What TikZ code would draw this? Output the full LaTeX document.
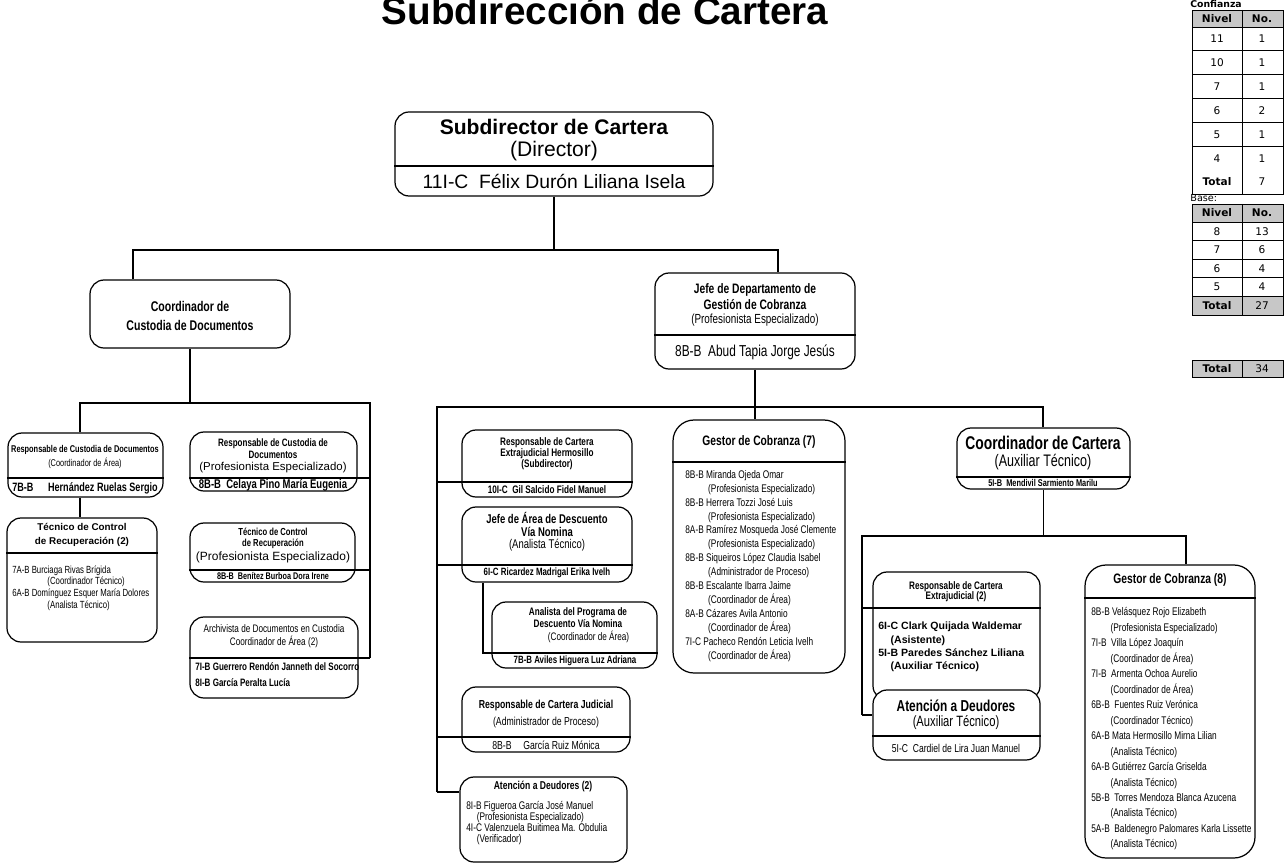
\documentclass[tikz,border=0pt]{standalone}
\usepackage{fontspec}
\setmainfont{Liberation Sans}
\newfontfamily\nar[FakeStretch=0.75]{Liberation Sans}
\newfontfamily\tbf{DejaVu Sans}
\usetikzlibrary{fit}
\newcommand{\fz}[2]{\fontsize{#1}{#2}\selectfont}
\newcommand{\ind}[1][13pt]{\hspace*{#1}}

\tikzset{
  obox/.style={draw, line width=0.7pt, rounded corners=8pt, inner sep=0pt, fill=white},
  gbox/.style={obox, rounded corners=12pt},
  wire/.style={line width=0.7pt},
  grid/.style={line width=0.5pt},
  lbl/.style={inner sep=0pt, align=center},
  lst/.style={inner sep=0pt, align=left, anchor=west},
  cell/.style={inner sep=0pt, font=\tbf\fz{6}{7}},
  hcell/.style={cell, font=\tbf\bfseries\fz{6}{7}},
  shade/.style={fill=black!22}
}

\begin{document}
\begin{tikzpicture}[x=0.02cm, y=-0.02cm]
\useasboundingbox (0,0) rectangle (1287,868);

\node[lbl, anchor=base, font=\bfseries\fz{22}{26}] (title) at (605,25) {Subdirección de Cartera};

\node[obox, fit={(395,112) (713,196)}] (dir) {};
\node[obox, fit={(90,280) (290,348)}] (cust) {};
\node[obox, fit={(655,273) (855,369)}] (jefe) {};

\node[obox, fit={(8,433) (163,497)}] (rcdA) {};
\node[obox, fit={(7,518) (157,642)}] (tcrA) {};
\node[obox, fit={(190,432) (357,491)}] (rcdB) {};
\node[obox, fit={(190,523) (355,582)}] (tcrB) {};
\node[obox, fit={(190,617) (358,698)}] (arch) {};

\node[obox, fit={(462,430) (632,497)}] (herm) {};
\node[obox, fit={(462,507) (632,582)}] (jarea) {};
\node[obox, fit={(492,602) (657,668)}] (anal) {};
\node[obox, fit={(462,687) (630,752)}] (jud) {};
\node[obox, fit={(460,777) (627,862)}] (atenA) {};
\node[gbox, fit={(673,420) (845,673)}] (gesA) {};

\node[obox, fit={(957,428) (1130,489)}] (ccar) {};
\node[obox, fit={(873,572) (1040,700)}] (rext) {};
\node[obox, fit={(873,690) (1040,760)}] (atenB) {};
\node[gbox, fit={(1085,565) (1255,858)}] (gesB) {};

\coordinate (b1l) at (133,250);
\coordinate (b1r) at (778,250);
\draw[wire] (dir.south) -- (dir.south |- b1l);
\draw[wire] (cust.north -| b1l) -- (b1l) -- (b1r) -- (jefe.north -| b1r);
\draw[wire] (dir.west |- 0,166) -- (dir.east |- 0,166);
\draw[wire] (jefe.west |- 0,335) -- (jefe.east |- 0,335);

\coordinate (b2l) at (80,403);
\coordinate (b2r) at (370,403);
\draw[wire] (cust.south) -- (cust.south |- b2l);
\draw[wire] (rcdA.north -| b2l) -- (b2l) -- (b2r) -- (b2r |- 0,658);
\draw[wire] (rcdA.south -| b2l) -- (tcrA.north -| b2l);
\draw[wire] (rcdA.west |- 0,478) -- (rcdA.east |- 0,478);
\draw[wire] (tcrA.west |- 0,553) -- (tcrA.east |- 0,553);
\draw[wire] (rcdB.west |- 0,478) -- (b2r |- 0,478);
\draw[wire] (tcrB.west |- 0,570) -- (b2r |- 0,570);
\draw[wire] (arch.west |- 0,658) -- (b2r |- 0,658);

\coordinate (b3l) at (437,407);
\coordinate (b3r) at (1043,407);
\draw[wire] (jefe.south) -- (gesA.north -| jefe.south);
\draw[wire] (b3l |- 0,792) -- (b3l) -- (b3r) -- (ccar.north -| b3r);
\draw[wire] (b3l |- 0,482) -- (herm.east |- 0,482);
\draw[wire] (b3l |- 0,565) -- (jarea.east |- 0,565);
\draw[wire] (jarea.south -| 483,0) -- (483,653) -- (anal.east |- 0,653);
\draw[wire] (b3l |- 0,737) -- (jud.east |- 0,737);
\draw[wire] (b3l |- 0,792) -- (atenA.west |- 0,792);
\draw[wire] (gesA.west |- 0,462) -- (gesA.east |- 0,462);

\coordinate (b4l) at (862,536);
\coordinate (b4r) at (1186,536);
\draw[wire] (ccar.south) -- (ccar.south |- b4l);
\draw[wire] (b4l |- 0,715) -- (b4l) -- (b4r) -- (gesB.north -| b4r);
\draw[wire] (b4l |- 0,608) -- (rext.east |- 0,608);
\draw[wire] (b4l |- 0,715) -- (atenB.west |- 0,715);
\draw[wire] (ccar.west |- 0,477) -- (ccar.east |- 0,477);
\draw[wire] (atenB.west |- 0,736) -- (atenB.east |- 0,736);
\draw[wire] (gesB.west |- 0,598) -- (gesB.east |- 0,598);

\node[lbl, font=\bfseries\fz{12}{14}] (dirT) at (554,127) {Subdirector de Cartera};
\node[lbl, font=\fz{12}{14}] (dirS) at (554,151) {(Director)};
\node[lbl, font=\fz{11}{13}] (dirN) at (554,181) {11I-C\ \ Félix Durón Liliana Isela};

\node[lbl, font=\nar\bfseries\fz{8}{10.5}] (custT) at (190,316) {Coordinador de\\Custodia de Documentos};

\node[lbl, font=\nar\bfseries\fz{7.8}{9}] (jefeT) at (755,297) {Jefe de Departamento de\\Gestión de Cobranza};
\node[lbl, font=\nar\fz{7.5}{9}] (jefeS) at (755,320) {(Profesionista Especializado)};
\node[lbl, font=\nar\fz{9}{11}] (jefeN) at (755,352) {8B-B\ \ Abud Tapia Jorge Jesús};

\node[lbl, font=\nar\bfseries\fz{5.6}{7}] (rcdAT) at (85,450) {Responsable de Custodia de Documentos};
\node[lbl, font=\nar\fz{5.6}{7}] (rcdAS) at (85,463) {(Coordinador de Área)};
\node[lbl, font=\nar\bfseries\fz{6.9}{8}] (rcdAN) at (85,488) {7B-B\hspace{1.2em}Hernández Ruelas Sergio};

\node[lbl, font=\bfseries\fz{5.6}{8}] (tcrAT) at (82,535) {Técnico de Control\\de Recuperación (2)};
\node[lst, font=\nar\fz{5.9}{6.6}] (tcrAN) at (12,588) {7A-B Burciaga Rivas Brígida\\\ind[20pt](Coordinador Técnico)\\6A-B Domínguez Esquer María Dolores\\\ind[20pt](Analista Técnico)};

\node[lbl, font=\nar\bfseries\fz{6.1}{6.8}] (rcdBT) at (273,449) {Responsable de Custodia de\\Documentos};
\node[lbl, font=\fz{6.5}{7}] (rcdBS) at (273,468) {(Profesionista Especializado)};
\node[lbl, font=\nar\bfseries\fz{7.2}{8}] (rcdBN) at (273,485) {8B-B\ \ Celaya Pino María Eugenia};

\node[lbl, font=\nar\bfseries\fz{5.8}{6.3}] (tcrBT) at (273,538) {Técnico de Control\\de Recuperación};
\node[lbl, font=\fz{6.8}{7}] (tcrBS) at (273,557) {(Profesionista Especializado)};
\node[lbl, font=\nar\bfseries\fz{5.5}{6}] (tcrBN) at (273,576) {8B-B\ \ Benítez Burboa Dora Irene};

\node[lbl, font=\nar\fz{6.2}{7.4}] (archT) at (274,636) {Archivista de Documentos en Custodia\\Coordinador de Área (2)};
\node[lst, font=\nar\bfseries\fz{6.1}{9}] (archN) at (195,675) {7I-B Guerrero Rendón Janneth del Socorro\\8I-B García Peralta Lucía};

\node[lbl, font=\nar\bfseries\fz{6.2}{6.3}] (hermT) at (547,454) {Responsable de Cartera\\Extrajudicial Hermosillo\\(Subdirector)};
\node[lbl, font=\nar\bfseries\fz{6.2}{7}] (hermN) at (547,490) {10I-C\ \ Gil Salcido Fidel Manuel};

\node[lbl, font=\nar\bfseries\fz{7.2}{7.2}] (jareaT) at (547,532) {Jefe de Área de Descuento\\Vía Nomina\\{\mdseries(Analista Técnico)}};
\node[lbl, font=\nar\bfseries\fz{6}{7}] (jareaN) at (547,573) {6I-C Ricardez Madrigal Erika Ivelh};

\node[lbl, font=\nar\bfseries\fz{6.2}{7.3}] (analT) at (578,625) {Analista del Programa de\\Descuento Vía Nomina\\\ind[12pt]{\mdseries(Coordinador de Área)}};
\node[lbl, font=\nar\bfseries\fz{6}{7}] (analN) at (575,661) {7B-B Aviles Higuera Luz Adriana};

\node[lbl, font=\nar\bfseries\fz{6.6}{8}] (judT) at (546,705) {Responsable de Cartera Judicial};
\node[lbl, font=\nar\fz{6.6}{8}] (judS) at (546,722) {(Administrador de Proceso)};
\node[lbl, font=\nar\fz{6.6}{8}] (judN) at (546,745) {8B-B\hspace{1em}García Ruiz Mónica};

\node[lbl, font=\nar\bfseries\fz{6.5}{8}] (atenAT) at (543,786) {Atención a Deudores (2)};
\node[lst, font=\nar\fz{6.3}{6.2}] (atenAN) at (466,823) {8I-B Figueroa García José Manuel\\\ind[6pt](Profesionista Especializado)\\4I-C Valenzuela Buitimea Ma. Obdulia\\\ind[6pt](Verificador)};

\node[lbl, font=\nar\bfseries\fz{7.8}{9}] (gesAT) at (759,442) {Gestor de Cobranza (7)};
\node[lst, font=\nar\fz{6.3}{7.94}] (gesAN) at (685,566) {8B-B Miranda Ojeda Omar\\\ind(Profesionista Especializado)\\8B-B Herrera Tozzi José Luis\\\ind(Profesionista Especializado)\\8A-B Ramírez Mosqueda José Clemente\\\ind(Profesionista Especializado)\\8B-B Siqueiros López Claudia Isabel\\\ind(Administrador de Proceso)\\8B-B Escalante Ibarra Jaime\\\ind(Coordinador de Área)\\8A-B Cázares Avila Antonio\\\ind(Coordinador de Área)\\7I-C Pacheco Rendón Leticia Ivelh\\\ind(Coordinador de Área)};

\node[lbl, font=\nar\bfseries\fz{10.5}{12}] (ccarT) at (1043,443) {Coordinador de Cartera};
\node[lbl, font=\nar\fz{9.5}{12}] (ccarS) at (1043,462) {(Auxiliar Técnico)};
\node[lbl, font=\nar\bfseries\fz{5.6}{6}] (ccarN) at (1043,483) {5I-B\ \ Mendivil Sarmiento Marilu};

\node[lbl, font=\nar\bfseries\fz{6.2}{5.8}] (rextT) at (956,592) {Responsable de Cartera\\Extrajudicial (2)};
\node[lst, font=\bfseries\fz{6}{7.6}] (rextN) at (878,647) {6I-C Clark Quijada Waldemar\\\ind[7pt](Asistente)\\5I-B Paredes Sánchez Liliana\\\ind[7pt](Auxiliar Técnico)};

\node[lbl, font=\nar\bfseries\fz{9}{10}] (atenBT) at (956,706) {Atención a Deudores};
\node[lbl, font=\nar\fz{8.5}{10}] (atenBS) at (956,723) {(Auxiliar Técnico)};
\node[lbl, font=\nar\fz{6.5}{8}] (atenBN) at (956,748) {5I-C\ \ Cardiel de Lira Juan Manuel};

\node[lbl, font=\nar\bfseries\fz{7.8}{9}] (gesBT) at (1170,580) {Gestor de Cobranza (8)};
\node[lst, font=\nar\fz{6.3}{8.8}] (gesBN) at (1091,729) {8B-B Velásquez Rojo Elizabeth\\\ind[11pt](Profesionista Especializado)\\7I-B\ \ Villa López Joaquín\\\ind[11pt](Coordinador de Área)\\7I-B\ \ Armenta Ochoa Aurelio\\\ind[11pt](Coordinador de Área)\\6B-B\ \ Fuentes Ruiz Verónica\\\ind[11pt](Coordinador Técnico)\\6A-B Mata Hermosillo Mirna Lilian\\\ind[11pt](Analista Técnico)\\6A-B Gutiérrez García Griselda\\\ind[11pt](Analista Técnico)\\5B-B\ \ Torres Mendoza Blanca Azucena\\\ind[11pt](Analista Técnico)\\5A-B\ \ Baldenegro Palomares Karla Lissette\\\ind[11pt](Analista Técnico)};

\node[anchor=north west, inner sep=0pt, font=\tbf\bfseries\fz{5.3}{6}] (conf) at (1190,0.5) {Confianza};
\fill[shade] (1192,10) rectangle (1283,27);
\draw[grid] (1192,10) rectangle (1283,194);
\foreach \y in {27,50.857,...,170} \draw[grid] (1192,\y) -- (1283,\y);
\draw[grid] (1242,10) -- (1242,194);
\node[hcell] (cfh1) at (1217,18.5) {Nivel};
\node[hcell] (cfh2) at (1262,18.5) {No.};
\foreach \lv/\no [count=\i] in {11/1,10/1,7/1,6/2,5/1,4/1,\textbf{Total}/7}{
  \node[cell] (cfa\i) at (1217,15.07+23.857*\i) {\lv};
  \node[cell] (cfb\i) at (1262,15.07+23.857*\i) {\no};
}

\node[anchor=west, inner sep=0pt, font=\tbf\fz{5.5}{6}] (base) at (1190,198) {Base:};
\fill[shade] (1192,204) rectangle (1283,222);
\fill[shade] (1192,296) rectangle (1283,315);
\draw[grid] (1192,204) rectangle (1283,315);
\foreach \y in {222,240.5,259,277.5,296} \draw[grid] (1192,\y) -- (1283,\y);
\draw[grid] (1242,204) -- (1242,315);
\node[hcell] (bsh1) at (1217,213) {Nivel};
\node[hcell] (bsh2) at (1262,213) {No.};
\foreach \lv/\no [count=\i] in {8/13,7/6,6/4,5/4,\textbf{Total}/27}{
  \node[cell] (bsa\i) at (1217,212.75+18.5*\i) {\lv};
  \node[cell] (bsb\i) at (1262,212.75+18.5*\i) {\no};
}

\fill[shade] (1192,360) rectangle (1283,377);
\draw[grid] (1192,360) rectangle (1283,377);
\draw[grid] (1242,360) -- (1242,377);
\node[hcell] (tot1) at (1217,368.5) {Total};
\node[cell] (tot2) at (1262,368.5) {34};
\end{tikzpicture}
\end{document}
